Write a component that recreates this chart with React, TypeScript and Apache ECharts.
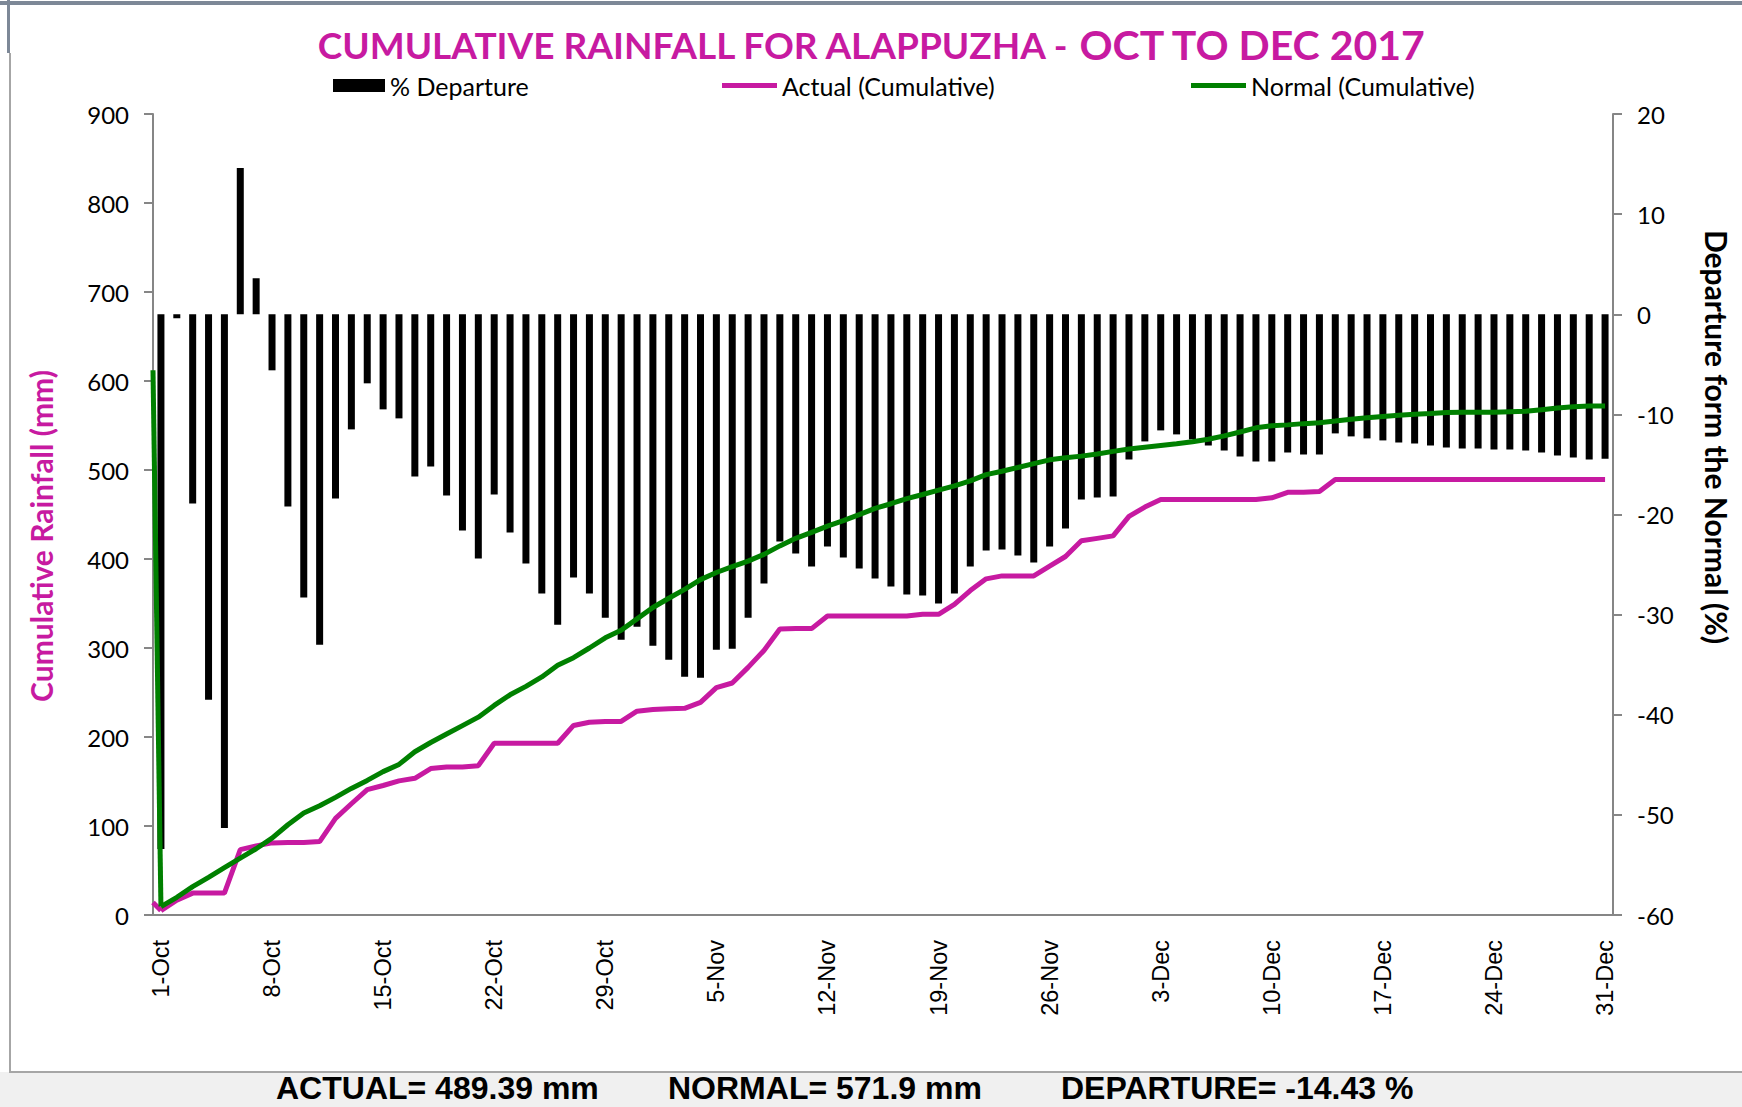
import React, { useEffect, useRef } from 'react';
import * as echarts from 'echarts';

// ---------- data ----------
const MONTHS = ['Oct', 'Nov', 'Dec'];
const MONTH_DAYS = [31, 30, 31];
const categories: string[] = [];
MONTHS.forEach((m, k) => {
  for (let d = 1; d <= MONTH_DAYS[k]; d++) categories.push(`${d}-${m}`);
});

// % departure from normal (right axis)
const departure = [
  -53.4, -0.4, -18.9, -38.5, -51.3, 14.6, 3.6, -5.6, -19.2, -28.3,
  -33.0, -18.4, -11.5, -6.9, -9.5, -10.4, -16.2, -15.2, -18.1, -21.6,
  -24.4, -18.0, -21.8, -24.9, -27.9, -31.0, -26.3, -27.9, -30.3, -32.5,
  -31.2, -33.1, -34.5, -36.2, -36.3, -33.5, -33.4, -30.3, -26.9, -22.7,
  -23.9, -25.2, -23.2, -24.3, -25.4, -26.4, -27.2, -28.0, -28.1, -28.9,
  -27.9, -25.2, -23.6, -23.5, -24.1, -24.8, -23.2, -21.4, -18.5, -18.3,
  -18.2, -14.5, -12.7, -11.6, -12.0, -12.5, -13.1, -13.6, -14.2, -14.7,
  -14.7, -13.8, -14.0, -14.0, -11.9, -12.2, -12.4, -12.6, -12.8, -12.9,
  -13.1, -13.3, -13.4, -13.4, -13.5, -13.5, -13.6, -13.8, -14.1, -14.3,
  -14.5, -14.43,
];

// Actual cumulative rainfall (mm)
const actual = [
  5, 16.6, 24.6, 24.6, 24.6, 73.5, 77.7, 81, 81.5, 81.5,
  82.5, 108.5, 125, 140.8, 145.5, 150.7, 153.6, 164.5, 166.4, 166.4,
  167.8, 192.9, 193, 193, 193, 193, 213, 216.6, 217.5, 217.5,
  229, 230.8, 231.8, 232.2, 238.9, 255.5, 260.7, 278.2, 297.2, 321.3,
  321.8, 321.8, 336, 336, 336, 336, 336, 336, 337.9, 337.9,
  349, 364.5, 377.7, 381, 381, 381, 392, 402.8, 420.4, 423.2,
  426, 447.9, 458.3, 466.8, 466.8, 466.8, 466.8, 466.8, 466.8, 466.8,
  468.7, 474.9, 474.9, 475.8, 489.39, 489.39, 489.39, 489.39, 489.39, 489.39,
  489.39, 489.39, 489.39, 489.39, 489.39, 489.39, 489.39, 489.39, 489.39, 489.39,
  489.39, 489.39,
];

// Normal cumulative rainfall (mm)
const normal = [
  9.5, 19.9, 31.8, 42.2, 53.1, 64, 74.4, 86.3, 101.4, 114.7,
  122.7, 132.2, 142.2, 151.2, 161.1, 169.2, 183.4, 193.8, 203.3, 212.8,
  222.3, 235.5, 247.4, 256.9, 267.5, 280.6, 289.1, 300, 311.4, 319.9,
  332.7, 345.5, 355.9, 365.9, 376.8, 384.8, 391.5, 397.6, 405.2, 414.7,
  423.2, 429.9, 437, 443.1, 449.8, 456.9, 462.1, 467.8, 472.5, 477.3,
  482.2, 487.7, 494.8, 498.6, 502.8, 507.1, 511.4, 513.7, 515.6, 518,
  520.9, 523.7, 525.6, 527.5, 529.4, 531.8, 534.6, 538.4, 542.7, 547.4,
  549.8, 550.7, 552.1, 553.1, 555, 557, 558.8, 560.2, 561.6, 562.6,
  563.5, 564.5, 564.9, 564.9, 564.9, 565.4, 565.9, 567.8, 569.7, 571.1,
  571.9, 571.9,
];

// values where the lines meet the left edge of the plot (segment coming in from before 1-Oct)
const LEAD_IN_ACTUAL = 14;
const LEAD_IN_NORMAL = 612;

const TOTAL_ACTUAL = '489.39';
const TOTAL_NORMAL = '571.9';
const TOTAL_DEPARTURE = '-14.43';

const MAGENTA = '#C71AA1';
const GREEN = '#008000';
const AXIS_GRAY = '#868686';

export default function App() {
  const ref = useRef<HTMLDivElement>(null);

  useEffect(() => {
    document.body.style.margin = '0';
    const chart = echarts.init(ref.current!, undefined, { renderer: 'svg' });
    const n = categories.length;

    const lineStyle = (color: string) => ({ color, width: 5 });
    const legendText = { fontFamily: 'Lato', fontSize: 25, color: '#000' };

    const option: any = {
      animation: false,
      backgroundColor: '#ffffff',
      title: {
        text: '{a|CUMULATIVE RAINFALL FOR ALAPPUZHA - }{b|OCT TO DEC 2017}',
        left: 'center',
        top: 19,
        textStyle: {
          rich: {
            a: { fontFamily: 'Lato', fontWeight: 'bold', fontSize: 37, color: MAGENTA },
            b: { fontFamily: 'Lato', fontWeight: 'bold', fontSize: 41, color: MAGENTA },
          },
        },
      },
      legend: [
        {
          data: ['% Departure'],
          left: 333,
          top: 73,
          padding: 0,
          icon: 'rect',
          itemWidth: 52,
          itemHeight: 13,
          textStyle: legendText,
        },
        {
          data: ['Actual (Cumulative)'],
          left: 722,
          top: 73,
          padding: 0,
          icon: 'rect',
          itemWidth: 55,
          itemHeight: 5,
          textStyle: legendText,
        },
        {
          data: ['Normal (Cumulative)'],
          left: 1191,
          top: 73,
          padding: 0,
          icon: 'rect',
          itemWidth: 55,
          itemHeight: 5,
          textStyle: legendText,
        },
      ],
      grid: { left: 153, top: 114, width: 1460, height: 801, containLabel: false },
      xAxis: [
        {
          type: 'category',
          data: categories,
          boundaryGap: true,
          axisLine: { lineStyle: { color: AXIS_GRAY, width: 2 } },
          axisTick: { interval: 6, length: 9, lineStyle: { color: AXIS_GRAY, width: 2 } },
          axisLabel: {
            interval: 6,
            rotate: 90,
            margin: 25,
            fontFamily: 'Liberation Sans',
            fontSize: 23.5,
            color: '#000',
          },
          splitLine: { show: false },
        },
        { type: 'value', min: 0, max: n, show: false },
      ],
      yAxis: [
        {
          type: 'value',
          min: 0,
          max: 900,
          interval: 100,
          position: 'left',
          axisLine: { show: true, lineStyle: { color: AXIS_GRAY, width: 2 } },
          axisTick: { show: true, length: 9, lineStyle: { color: AXIS_GRAY, width: 2 } },
          axisLabel: { margin: 24, fontFamily: 'Lato', fontSize: 24, color: '#000' },
          splitLine: { show: false },
        },
        {
          type: 'value',
          min: -60,
          max: 20,
          interval: 10,
          position: 'right',
          axisLine: { show: true, lineStyle: { color: AXIS_GRAY, width: 2 } },
          axisTick: { show: true, length: 9, lineStyle: { color: AXIS_GRAY, width: 2 } },
          axisLabel: { margin: 24, fontFamily: 'Lato', fontSize: 24, color: '#000' },
          splitLine: { show: false },
        },
      ],
      series: [
        {
          name: '% Departure',
          type: 'bar',
          yAxisIndex: 1,
          data: departure,
          barWidth: 7,
          itemStyle: { color: '#000000' },
          z: 2,
        },
        {
          name: 'Actual (Cumulative)',
          type: 'line',
          yAxisIndex: 0,
          data: actual,
          color: MAGENTA,
          symbol: 'none',
          lineStyle: lineStyle(MAGENTA),
          z: 3,
        },
        {
          name: 'actual-lead',
          type: 'line',
          xAxisIndex: 1,
          yAxisIndex: 0,
          data: [[0, LEAD_IN_ACTUAL], [0.5, actual[0]]],
          color: MAGENTA,
          symbol: 'none',
          lineStyle: lineStyle(MAGENTA),
          z: 3,
        },
        {
          name: 'Normal (Cumulative)',
          type: 'line',
          yAxisIndex: 0,
          data: normal,
          color: GREEN,
          symbol: 'none',
          lineStyle: lineStyle(GREEN),
          z: 4,
        },
        {
          name: 'normal-lead',
          type: 'line',
          xAxisIndex: 1,
          yAxisIndex: 0,
          data: [[0, LEAD_IN_NORMAL], [0.5, normal[0]]],
          color: GREEN,
          symbol: 'none',
          lineStyle: lineStyle(GREEN),
          z: 4,
        },
      ],
      graphic: [
        // frame
        { type: 'rect', shape: { x: 0, y: 1, width: 1742, height: 4 }, style: { fill: '#7d8897' }, silent: true },
        { type: 'rect', shape: { x: 7, y: 0, width: 3, height: 53 }, style: { fill: '#7d8897' }, silent: true },
        { type: 'rect', shape: { x: 9, y: 53, width: 2, height: 1020 }, style: { fill: '#a6a6a6' }, silent: true },
        { type: 'rect', shape: { x: 0, y: 1072, width: 1742, height: 35 }, style: { fill: '#f0f0f0' }, silent: true },
        { type: 'rect', shape: { x: 9, y: 1071, width: 1733, height: 2 }, style: { fill: '#a6a6a6' }, silent: true },
        // axis titles
        {
          type: 'text',
          x: 41,
          y: 536,
          rotation: Math.PI / 2,
          style: {
            text: 'Cumulative Rainfall (mm)',
            fontFamily: 'Lato',
            fontWeight: 'bold',
            fontSize: 30,
            fill: MAGENTA,
            align: 'center',
            verticalAlign: 'middle',
          },
        },
        {
          type: 'text',
          x: 1717,
          y: 437,
          rotation: -Math.PI / 2,
          style: {
            text: 'Departure form the Normal (%)',
            fontFamily: 'Lato',
            fontWeight: 'bold',
            fontSize: 30,
            fill: '#000',
            align: 'center',
            verticalAlign: 'middle',
          },
        },
        // footer
        {
          type: 'text',
          x: 276,
          y: 1088,
          style: {
            text: `ACTUAL= ${TOTAL_ACTUAL} mm`,
            fontFamily: 'Liberation Sans',
            fontWeight: 'bold',
            fontSize: 32,
            fill: '#000',
            verticalAlign: 'middle',
          },
        },
        {
          type: 'text',
          x: 668,
          y: 1088,
          style: {
            text: `NORMAL= ${TOTAL_NORMAL} mm`,
            fontFamily: 'Liberation Sans',
            fontWeight: 'bold',
            fontSize: 32,
            fill: '#000',
            verticalAlign: 'middle',
          },
        },
        {
          type: 'text',
          x: 1061,
          y: 1088,
          style: {
            text: `DEPARTURE= ${TOTAL_DEPARTURE} %`,
            fontFamily: 'Liberation Sans',
            fontWeight: 'bold',
            fontSize: 32,
            fill: '#000',
            verticalAlign: 'middle',
          },
        },
      ],
    };

    chart.setOption(option);
    return () => chart.dispose();
  }, []);

  return (
    <div
      ref={ref}
      style={{ position: 'absolute', left: 0, top: 0, width: 1742, height: 1107 }}
    />
  );
}
